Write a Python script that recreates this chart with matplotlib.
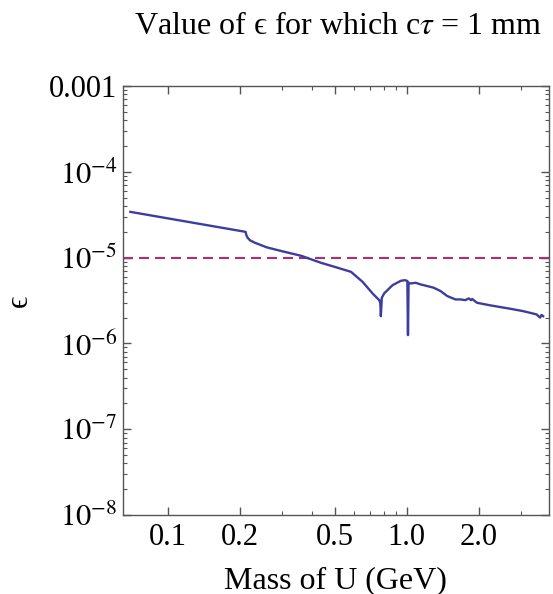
import numpy as np
import matplotlib
matplotlib.use('Agg')
from matplotlib import pyplot as plt
from matplotlib.ticker import FixedLocator, NullFormatter, LogLocator

plt.rcParams['font.family'] = ['Liberation Serif', 'DejaVu Serif']
plt.rcParams['mathtext.fontset'] = 'stix'

# coupling needed for c*tau = 1 mm, read per mass (GeV)
mass_U = [0.0695, 0.2113, 0.2125, 0.215, 0.22, 0.23, 0.259, 0.30, 0.362, 0.38,
          0.438, 0.50, 0.584, 0.653, 0.719, 0.767, 0.775, 0.779, 0.786, 0.804,
          0.872, 0.944, 0.981, 1.006, 1.012, 1.018, 1.039, 1.09, 1.143, 1.296,
          1.386, 1.478, 1.60, 1.68, 1.76, 1.82, 1.86, 1.88, 1.97, 2.24,
          2.71, 3.08, 3.50, 3.62, 3.67, 3.73]
eps_ctau = [3.42e-5, 2.0e-5, 1.85e-5, 1.72e-5, 1.6e-5, 1.5e-5, 1.32e-5, 1.19e-5, 1.05e-5, 1.0e-5,
            8.7e-6, 7.8e-6, 6.84e-6, 5.23e-6, 3.83e-6, 3.2e-6, 2.95e-6, 2.08e-6, 3.4e-6, 3.83e-6,
            4.78e-6, 5.37e-6, 5.47e-6, 5.35e-6, 1.25e-6, 5.1e-6, 5.0e-6, 5.1e-6, 4.88e-6, 4.47e-6,
            4.08e-6, 3.57e-6, 3.26e-6, 3.26e-6, 3.2e-6, 3.35e-6, 3.2e-6, 3.3e-6, 2.98e-6, 2.78e-6,
            2.54e-6, 2.38e-6, 2.18e-6, 2.0e-6, 2.15e-6, 2.08e-6]
eps_ref = 1e-5

x_major = [0.1, 0.2, 0.5, 1.0, 2.0]
x_major_labels = ['0.1', '0.2', '0.5', '1.0', '2.0']
x_minor = [0.3, 0.4, 0.6, 0.7, 0.8, 0.9, 3.0, 4.0]
y_major = [1e-8, 1e-7, 1e-6, 1e-5, 1e-4, 1e-3]
y_major_labels = [r'$10^{-8}$', r'$10^{-7}$', r'$10^{-6}$', r'$10^{-5}$', r'$10^{-4}$', '0.001']

fig = plt.figure(figsize=(5.53, 5.94), dpi=100)
ax = fig.add_axes([0.2224, 0.133, 0.7696, 0.722])

ax.plot(mass_U, eps_ctau, color='#3d3d9e', lw=1.7, zorder=3)
ax.axhline(eps_ref, color='#9b3a6e', lw=1.6, dashes=(4.5, 2.7), zorder=2)

ax.set_xscale('log')
ax.set_yscale('log')
ax.set_xlim(0.0647, 3.93)
ax.set_ylim(1e-8, 1e-3)

ax.xaxis.set_major_locator(FixedLocator(x_major))
ax.set_xticklabels(x_major_labels)
ax.xaxis.set_minor_locator(FixedLocator(x_minor))
ax.xaxis.set_minor_formatter(NullFormatter())
ax.yaxis.set_major_locator(FixedLocator(y_major))
ax.set_yticklabels(y_major_labels)
ax.yaxis.set_minor_locator(LogLocator(base=10, subs=np.arange(2, 10), numticks=20))
ax.yaxis.set_minor_formatter(NullFormatter())

for s in ax.spines.values():
    s.set_color('#555555')
    s.set_linewidth(1.0)
ax.tick_params(which='both', direction='in', top=True, right=True, color='#555555',
               labelsize=22)
ax.tick_params(axis='x', pad=6)
ax.tick_params(axis='y', pad=4)
ax.tick_params(which='major', length=6, width=1.0)
ax.tick_params(which='minor', length=3, width=0.8)

ax.set_xlabel('Mass of U (GeV)', fontsize=23, labelpad=10)
ax.set_ylabel('ϵ', fontsize=22, labelpad=11)
fig.text(0.611, 0.955, 'Value of ϵ for which c$\\tau$ = 1 mm', fontsize=23,
         ha='center', va='center')

fig.savefig('out.png', dpi=100)
